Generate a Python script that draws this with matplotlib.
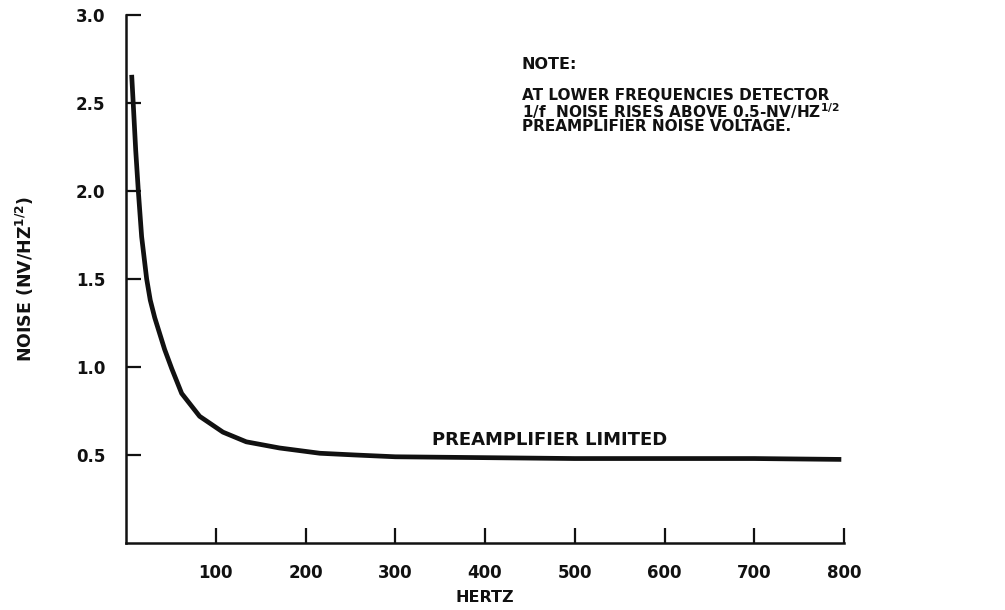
import numpy as np
import matplotlib.pyplot as plt

# noise spectrum (Hz, nV/Hz^1/2)
freq_hz = [6.3, 8, 10.8, 13.7, 17.4, 23, 27, 32, 43, 51, 62, 82, 108, 134,
           171, 216, 256, 300, 400, 500, 600, 700, 797]
noise_nv = [2.66, 2.50, 2.23, 2.00, 1.74, 1.50, 1.38, 1.28, 1.10, 0.99, 0.85,
            0.72, 0.63, 0.575, 0.54, 0.51, 0.50, 0.49, 0.485, 0.48, 0.48,
            0.48, 0.475]

x_ticks = [100, 200, 300, 400, 500, 600, 700, 800]
y_ticks = [0.5, 1.0, 1.5, 2.0, 2.5, 3.0]

note_lines = [
    "AT LOWER FREQUENCIES DETECTOR",
    r"1/f  NOISE RISES ABOVE 0.5-NV/HZ$^{\mathbf{1/2}}$",
    "PREAMPLIFIER NOISE VOLTAGE.",
]

plt.rcParams['font.family'] = 'DejaVu Sans'
plt.rcParams['font.weight'] = 'bold'
plt.rcParams['mathtext.default'] = 'bf'

ink = '#111111'

fig = plt.figure(figsize=(10.05, 6.10), dpi=100)
ax = fig.add_axes([0.1254, 0.1098, 0.7144, 0.8656])

ax.plot(freq_hz, noise_nv, color=ink, lw=3.4, solid_capstyle='butt',
        solid_joinstyle='round')

ax.set_xlim(0, 800)
ax.set_ylim(0, 3.0)
ax.set_xticks(x_ticks)
ax.set_yticks(y_ticks)
ax.set_xticklabels([str(t) for t in x_ticks])
ax.set_yticklabels([f"{t:.1f}" for t in y_ticks])

for side in ('top', 'right'):
    ax.spines[side].set_visible(False)
for side in ('left', 'bottom'):
    ax.spines[side].set_linewidth(1.8)
    ax.spines[side].set_color(ink)

ax.tick_params(direction='in', length=11, width=1.6, color=ink,
               labelsize=12, labelcolor=ink)
ax.tick_params(axis='y', pad=15)
ax.tick_params(axis='x', pad=15)

ax.set_xlabel("HERTZ", fontsize=11.5, fontweight='bold', color=ink,
              va='center')
ax.xaxis.set_label_coords(0.5, -0.104)
ax.set_ylabel(r"NOISE (NV/HZ$^{\mathbf{1/2}}$)", fontsize=12.5,
              fontweight='bold', color=ink)
ax.yaxis.set_label_coords(-0.125, 0.5)

ax.text(441, 2.716, "NOTE:", fontsize=11.5, fontweight='bold', color=ink,
        va='center', ha='left')
for i, line in enumerate(note_lines):
    ax.text(441, 2.545 - i * 0.09, line, fontsize=11, fontweight='bold',
            color=ink, va='center', ha='left')

ax.text(341, 0.585, "PREAMPLIFIER LIMITED", fontsize=13, fontweight='bold',
        color=ink, va='center', ha='left')

fig.savefig("out.png", dpi=100)
